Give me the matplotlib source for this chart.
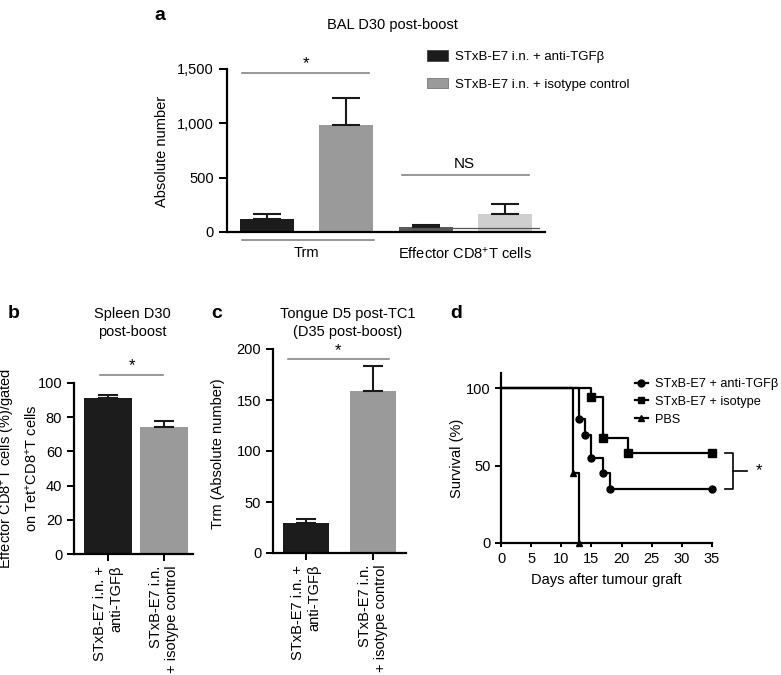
import matplotlib
matplotlib.use("Agg")
import matplotlib.pyplot as plt
from matplotlib.patches import Patch
from matplotlib.lines import Line2D

plt.rcParams['font.family'] = ['Liberation Sans', 'DejaVu Sans']
plt.rcParams['mathtext.fontset'] = 'custom'
plt.rcParams['mathtext.rm'] = 'Liberation Sans'
plt.rcParams['mathtext.default'] = 'regular'

# ---------------- data ----------------
a_groups = ["Trm", "Effector CD8$^{+}$T cells"]
a_anti_mean = [120, 50]
a_anti_err = [46, 15]
a_iso_mean = [985, 170]
a_iso_err = [248, 88]
a_legend = ["STxB-E7 i.n. + anti-TGFβ", "STxB-E7 i.n. + isotype control"]
a_yticks = [0, 500, 1000, 1500]
a_yticklabels = ["0", "500", "1,000", "1,500"]

bc_labels = ["STxB-E7 i.n. +\nanti-TGFβ", "STxB-E7 i.n.\n+ isotype control"]
b_mean = [91, 74]
b_err = [2, 4]
c_mean = [29, 159]
c_err = [4, 24]

d_anti_t = [0, 13, 14, 15, 17, 18, 35]
d_anti_s = [100, 80, 70, 55, 45, 35, 35]
d_iso_t = [0, 15, 17, 21, 35]
d_iso_s = [100, 94, 68, 58, 58]
d_pbs_t = [0, 12, 13]
d_pbs_s = [100, 45, 0]
d_labels = ["STxB-E7 + anti-TGFβ", "STxB-E7 + isotype", "PBS"]

# ---------------- layout helpers ----------------
W, H = 781, 675
fig = plt.figure(figsize=(W / 100, H / 100), dpi=100)

def rect(l, r, t, b):
    return [l / W, 1 - b / H, (r - l) / W, (b - t) / H]

def ftext(x, y, s, **kw):
    fig.text(x / W, 1 - y / H, s, **kw)

def style(ax, ticklen):
    for s in ['top', 'right']:
        ax.spines[s].set_visible(False)
    for s in ['left', 'bottom']:
        ax.spines[s].set_linewidth(1.6)
    ax.tick_params(axis='both', width=1.4, length=ticklen, labelsize=10.5, direction='out')

BLACK = '#1c1c1c'
GREY = '#9a9a9b'
SIGC = '#7a7a7a'

# ---------------- panel a ----------------
axa = fig.add_axes(rect(227, 545, 69, 232))
style(axa, 6)
off = 0.248
wid = 0.345
ekw = dict(ecolor='#1a1a1a', elinewidth=1.5, capthick=1.5)
for i in range(len(a_groups)):
    axa.bar(i - off, a_anti_mean[i], width=wid,
            color=[BLACK, '#5c5c5c'][i],
            yerr=[[0], [a_anti_err[i]]], capsize=10, error_kw=ekw)
    axa.bar(i + off, a_iso_mean[i], width=wid,
            color=[GREY, '#cfcfcf'][i],
            yerr=[[0], [a_iso_err[i]]], capsize=10, error_kw=ekw)
axa.set_xlim(-0.5, 1.5)
axa.set_ylim(0, 1500)
axa.set_yticks(a_yticks)
axa.set_yticklabels(a_yticklabels)
axa.set_xticks([0, 1])
axa.set_xticklabels(a_groups)
axa.tick_params(axis='x', length=0, pad=10)
# significance lines
axa.plot([-0.404, 0.392], [1463, 1463], color=SIGC, lw=1.1, clip_on=False)
axa.text(-0.005, 1480, "*", ha='center', va='bottom', fontsize=12)
axa.plot([0.599, 1.40], [524, 524], color=SIGC, lw=1.1, clip_on=False)
axa.text(0.995, 560, "NS", ha='center', va='bottom', fontsize=11)
axa.plot([-0.404, 0.423], [-74, -74], color=SIGC, lw=1.1, clip_on=False)
axa.plot([0.63, 1.46], [37, 37], color='#555555', lw=0.9, clip_on=False)
handles = [Patch(facecolor=BLACK, edgecolor='#444444', lw=0.6),
           Patch(facecolor=GREY, edgecolor='#777777', lw=0.6)]
axa.legend(handles, a_legend, loc='upper left', bbox_to_anchor=(427 / W, 1 - 50 / H),
           bbox_transform=fig.transFigure, frameon=False, fontsize=9.5,
           handlelength=1.6, handleheight=0.9, labelspacing=1.1,
           borderpad=0, borderaxespad=0, handletextpad=0.5)
ftext(392, 25, "BAL D30 post-boost", ha='center', va='center', fontsize=10.5)
ftext(162, 151, "Absolute number", rotation=90, ha='center', va='center', fontsize=10.5)
ftext(160, 15, "a", ha='center', va='center', fontsize=14, fontweight='bold')

# ---------------- panel b ----------------
axb = fig.add_axes(rect(74, 193, 383, 554))
style(axb, 5)
xs = [0, 1]
axb.bar(xs, b_mean, width=0.857, color=[BLACK, GREY],
        yerr=[[0, 0], b_err], capsize=7, error_kw=ekw)
axb.set_xlim(-0.607, 1.52)
axb.set_ylim(0, 100)
axb.set_yticks([0, 20, 40, 60, 80, 100])
axb.set_xticks(xs)
axb.set_xticklabels(bc_labels, rotation=90, fontsize=10.5, multialignment='right')
axb.plot([-0.14, 0.98], [104.7, 104.7], color=SIGC, lw=1.1, clip_on=False)
axb.text(0.43, 105.5, "*", ha='center', va='bottom', fontsize=12)
ftext(132, 323, "Spleen D30\npost-boost", ha='center', va='center', fontsize=10.5,
      linespacing=1.3)
ftext(8, 468, "Effector CD8$^{+}$T cells (%)/gated", rotation=90, ha='center',
      va='center', fontsize=10.5)
ftext(32, 468, "on Tet$^{+}$CD8$^{+}$T cells", rotation=90, ha='center',
      va='center', fontsize=10.5)
ftext(14, 313, "b", ha='center', va='center', fontsize=14, fontweight='bold')

# ---------------- panel c ----------------
axc = fig.add_axes(rect(273, 406, 349, 553))
style(axc, 5)
axc.bar(xs, c_mean, width=0.69, color=[BLACK, GREY],
        yerr=[[0, 0], c_err], capsize=7, error_kw=ekw)
axc.set_xlim(-0.49, 1.49)
axc.set_ylim(0, 200)
axc.set_yticks([0, 50, 100, 150, 200])
axc.set_xticks(xs)
axc.set_xticklabels(bc_labels, rotation=90, fontsize=10.5, multialignment='right')
axc.plot([-0.27, 1.24], [190, 190], color=SIGC, lw=1.1, clip_on=False)
axc.text(0.48, 191, "*", ha='center', va='bottom', fontsize=12)
ftext(348, 323, "Tongue D5 post-TC1\n(D35 post-boost)", ha='center', va='center',
      fontsize=10.5, linespacing=1.3)
ftext(218, 454, "Trm (Absolute number)", rotation=90, ha='center', va='center',
      fontsize=10.5)
ftext(217, 313, "c", ha='center', va='center', fontsize=14, fontweight='bold')

# ---------------- panel d ----------------
axd = fig.add_axes(rect(501, 712, 372.5, 543))
style(axd, 4)
lkw = dict(color='black', lw=1.6, clip_on=False)
axd.step(d_anti_t, d_anti_s, where='post', **lkw)
axd.plot(d_anti_t[1:], d_anti_s[1:], 'o', color='black', ms=5, clip_on=False)
axd.step(d_iso_t, d_iso_s, where='post', **lkw)
axd.plot(d_iso_t[1:], d_iso_s[1:], 's', color='black', ms=5.5, clip_on=False)
axd.step(d_pbs_t, d_pbs_s, where='post', **lkw)
axd.plot(d_pbs_t[1:], d_pbs_s[1:], '^', color='black', ms=5, clip_on=False)
axd.set_xlim(0, 35)
axd.set_ylim(0, 110)
axd.set_xticks(range(0, 36, 5))
axd.set_yticks([0, 50, 100])
axd.tick_params(axis='x', length=3)
axd.set_xlabel("Days after tumour graft", fontsize=10.5, labelpad=5)
# bracket
bx0, bx1, bx2 = 37.2, 38.5, 40.8
axd.plot([bx0, bx1, bx1, bx0], [58, 58, 35, 35], color='black', lw=1.2, clip_on=False)
axd.plot([bx1, bx2], [46.5, 46.5], color='black', lw=1.2, clip_on=False)
axd.text(42.3, 46.5, "*", ha='left', va='center', fontsize=12)
dh = [Line2D([], [], color='black', lw=1.6, marker=m, ms=5) for m in ['o', 's', '^']]
axd.legend(dh, d_labels, loc='upper left', bbox_to_anchor=(635 / W, 1 - 378 / H),
           bbox_transform=fig.transFigure, frameon=False, fontsize=9.2,
           handlelength=1.0, labelspacing=0.45, borderpad=0, borderaxespad=0,
           handletextpad=0.6)
ftext(457, 458, "Survival (%)", rotation=90, ha='center', va='center', fontsize=10.5)
ftext(456, 313, "d", ha='center', va='center', fontsize=14, fontweight='bold')

fig.savefig("out.png", dpi=100)
